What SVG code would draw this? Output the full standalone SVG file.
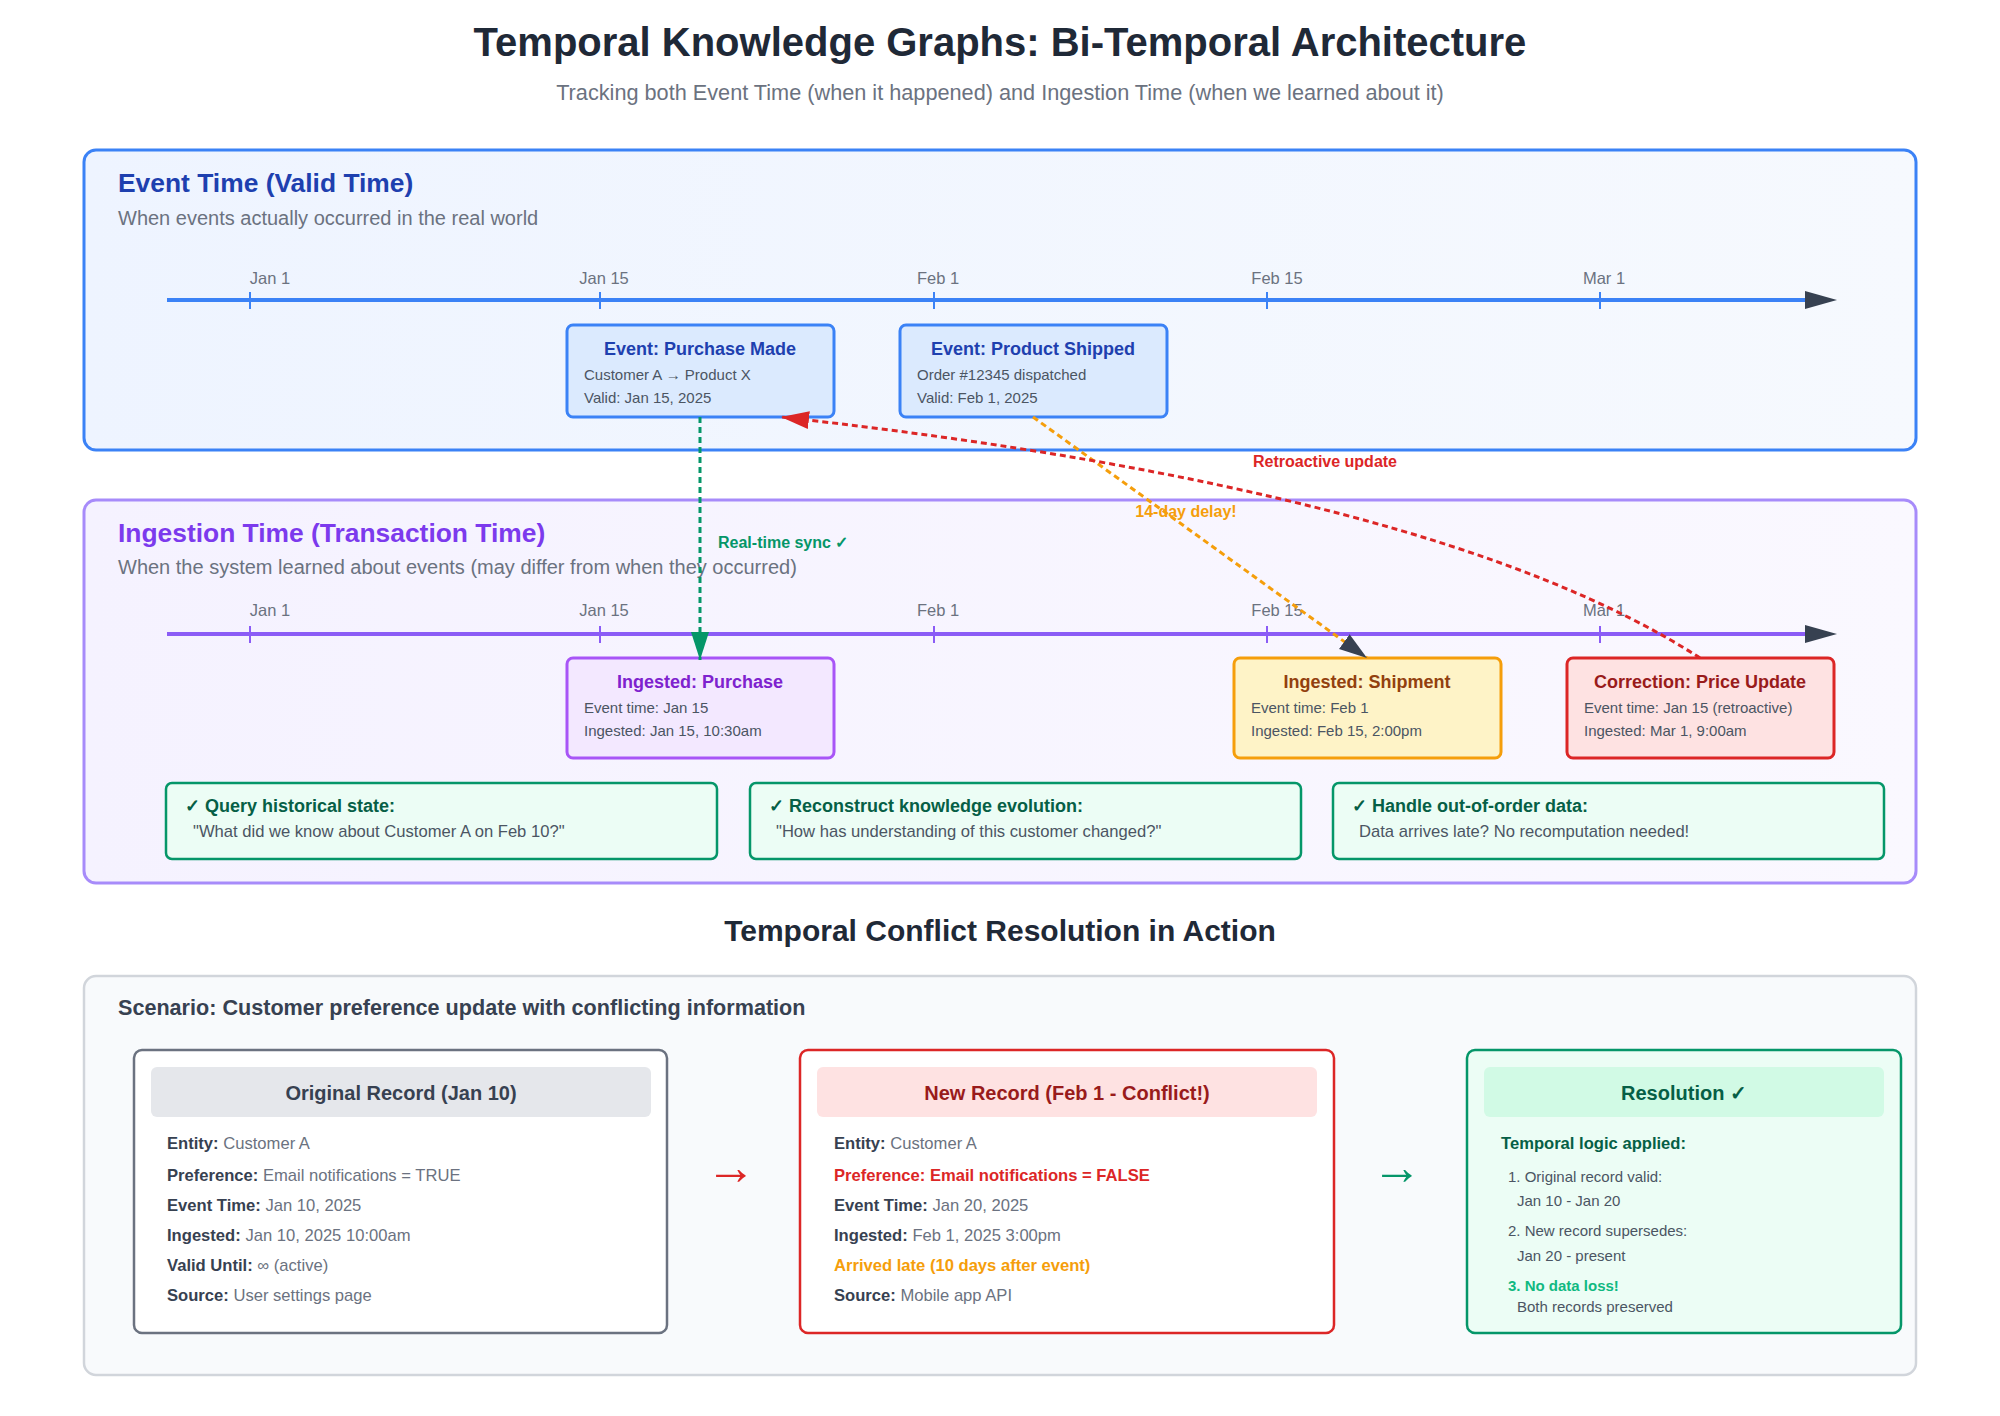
<svg xmlns="http://www.w3.org/2000/svg" width="2000" height="1416" viewBox="0 0 2000 1416">
<defs>
<linearGradient id="gBlue" x1="0" y1="0" x2="1" y2="0"><stop offset="0" stop-color="#eef4ff"/><stop offset="1" stop-color="#f6f9fe"/></linearGradient>
<linearGradient id="gPurple" x1="0" y1="0" x2="1" y2="0"><stop offset="0" stop-color="#f5f2ff"/><stop offset="1" stop-color="#faf8ff"/></linearGradient>
<marker id="axisArrow" markerUnits="userSpaceOnUse" markerWidth="34" markerHeight="22" refX="0" refY="11" orient="auto"><path d="M0,2 L32,11 L0,20 z" fill="#374151"/></marker>
<marker id="arrGreen" markerUnits="userSpaceOnUse" markerWidth="30" markerHeight="22" refX="28" refY="11" orient="auto"><path d="M0,2 L28,11 L0,20 z" fill="#059669"/></marker>
<marker id="arrDark" markerUnits="userSpaceOnUse" markerWidth="30" markerHeight="22" refX="28" refY="11" orient="auto"><path d="M0,2 L28,11 L0,20 z" fill="#374151"/></marker>
<marker id="arrRed" markerUnits="userSpaceOnUse" markerWidth="30" markerHeight="22" refX="28" refY="11" orient="auto"><path d="M0,2 L28,11 L0,20 z" fill="#dc2626"/></marker>
</defs>
<style>
text{font-family:"Liberation Sans",Arial,sans-serif}
.title{font-size:40px;font-weight:bold;fill:#1f2937}
.sub{font-size:21.7px;fill:#6b7280}
.ptitle{font-size:26.4px;font-weight:bold}
.psub{font-size:20px;fill:#6b7280}
.tick{font-size:16.5px;fill:#6b7280;text-anchor:middle}
.btitle{font-size:18px;font-weight:bold;text-anchor:middle}
.bline{font-size:15px;fill:#4b5563}
.gtitle{font-size:18px;font-weight:bold;fill:#065f46}
.gline{font-size:16.6px;fill:#4b5563}
.clabel{font-size:16px;font-weight:bold}
.h2{font-size:30px;font-weight:bold;fill:#1f2937;text-anchor:middle}
.scen{font-size:21.6px;font-weight:bold;fill:#374151}
.rhead{font-size:20px;font-weight:bold;text-anchor:middle}
.rline{font-size:16.6px;fill:#6b7280}
.rline tspan.k{font-weight:bold;fill:#374151}
.sline{font-size:15px;fill:#4b5563}
.axisB{stroke:#3b82f6;stroke-width:4}
.axisP{stroke:#8b5cf6;stroke-width:4}
.conn{fill:none;stroke-width:3;stroke-dasharray:6,4}
.arrowch{font-size:50px;text-anchor:middle}
</style>
<rect width="2000" height="1416" fill="#ffffff"/>
<text class="title" x="1000" y="56" text-anchor="middle">Temporal Knowledge Graphs: Bi-Temporal Architecture</text>
<text class="sub" x="1000" y="100" text-anchor="middle">Tracking both Event Time (when it happened) and Ingestion Time (when we learned about it)</text>

<g id="event-panel">
<rect x="84" y="150" width="1832" height="300" rx="12" fill="url(#gBlue)" stroke="#3b82f6" stroke-width="3"/>
<text class="ptitle" x="118" y="192" fill="#1e40af">Event Time (Valid Time)</text>
<text class="psub" x="118" y="225">When events actually occurred in the real world</text>
<line class="axisB" x1="167" y1="300" x2="1805" y2="300" marker-end="url(#axisArrow)"/>
<g stroke="#3b82f6" stroke-width="2"><line x1="250" y1="292" x2="250" y2="309"/><line x1="600" y1="292" x2="600" y2="309"/><line x1="934" y1="292" x2="934" y2="309"/><line x1="1267" y1="292" x2="1267" y2="309"/><line x1="1600" y1="292" x2="1600" y2="309"/></g>
<text class="tick" x="270" y="284">Jan 1</text><text class="tick" x="604" y="284">Jan 15</text><text class="tick" x="938" y="284">Feb 1</text><text class="tick" x="1277" y="284">Feb 15</text><text class="tick" x="1604" y="284">Mar 1</text>
</g>
<g id="event-purchase">
<rect x="567" y="325" width="267" height="92" rx="6" fill="#dbeafe" stroke="#3b82f6" stroke-width="3"/>
<text class="btitle" x="700" y="355" fill="#1e40af">Event: Purchase Made</text>
<text class="bline" x="584" y="380">Customer A → Product X</text>
<text class="bline" x="584" y="403">Valid: Jan 15, 2025</text>
</g>
<g id="event-shipped">
<rect x="900" y="325" width="267" height="92" rx="6" fill="#dbeafe" stroke="#3b82f6" stroke-width="3"/>
<text class="btitle" x="1033" y="355" fill="#1e40af">Event: Product Shipped</text>
<text class="bline" x="917" y="380">Order #12345 dispatched</text>
<text class="bline" x="917" y="403">Valid: Feb 1, 2025</text>
</g>

<g id="ingestion-panel">
<rect x="84" y="500" width="1832" height="383" rx="12" fill="url(#gPurple)" stroke="#a78bfa" stroke-width="3"/>
<text class="ptitle" x="118" y="542" fill="#7c3aed">Ingestion Time (Transaction Time)</text>
<text class="psub" x="118" y="574">When the system learned about events (may differ from when they occurred)</text>
<line class="axisP" x1="167" y1="634" x2="1805" y2="634" marker-end="url(#axisArrow)"/>
<g stroke="#8b5cf6" stroke-width="2"><line x1="250" y1="626" x2="250" y2="643"/><line x1="600" y1="626" x2="600" y2="643"/><line x1="934" y1="626" x2="934" y2="643"/><line x1="1267" y1="626" x2="1267" y2="643"/><line x1="1600" y1="626" x2="1600" y2="643"/></g>
<text class="tick" x="270" y="616">Jan 1</text><text class="tick" x="604" y="616">Jan 15</text><text class="tick" x="938" y="616">Feb 1</text><text class="tick" x="1277" y="616">Feb 15</text><text class="tick" x="1604" y="616">Mar 1</text>
</g>
<g id="ingested-purchase">
<rect x="567" y="658" width="267" height="100" rx="6" fill="#f3e8ff" stroke="#a855f7" stroke-width="3"/>
<text class="btitle" x="700" y="688" fill="#7e22ce">Ingested: Purchase</text>
<text class="bline" x="584" y="713">Event time: Jan 15</text>
<text class="bline" x="584" y="736">Ingested: Jan 15, 10:30am</text>
</g>
<g id="ingested-shipment">
<rect x="1234" y="658" width="267" height="100" rx="6" fill="#fef3c7" stroke="#f59e0b" stroke-width="3"/>
<text class="btitle" x="1367" y="688" fill="#92400e">Ingested: Shipment</text>
<text class="bline" x="1251" y="713">Event time: Feb 1</text>
<text class="bline" x="1251" y="736">Ingested: Feb 15, 2:00pm</text>
</g>
<g id="correction">
<rect x="1567" y="658" width="267" height="100" rx="6" fill="#fee2e2" stroke="#dc2626" stroke-width="3"/>
<text class="btitle" x="1700" y="688" fill="#991b1b">Correction: Price Update</text>
<text class="bline" x="1584" y="713">Event time: Jan 15 (retroactive)</text>
<text class="bline" x="1584" y="736">Ingested: Mar 1, 9:00am</text>
</g>
<g id="benefit-query">
<rect x="166" y="783" width="551" height="76" rx="6" fill="#ecfdf5" stroke="#059669" stroke-width="2.5"/>
<text class="gtitle" x="185" y="812">✓ Query historical state:</text>
<text class="gline" x="193" y="837">"What did we know about Customer A on Feb 10?"</text>
</g>
<g id="benefit-evolution">
<rect x="750" y="783" width="551" height="76" rx="6" fill="#ecfdf5" stroke="#059669" stroke-width="2.5"/>
<text class="gtitle" x="769" y="812">✓ Reconstruct knowledge evolution:</text>
<text class="gline" x="776" y="837">"How has understanding of this customer changed?"</text>
</g>
<g id="benefit-ooo">
<rect x="1333" y="783" width="551" height="76" rx="6" fill="#ecfdf5" stroke="#059669" stroke-width="2.5"/>
<text class="gtitle" x="1352" y="812">✓ Handle out-of-order data:</text>
<text class="gline" x="1359" y="837">Data arrives late? No recomputation needed!</text>
</g>

<g id="connectors">
<line class="conn" x1="700" y1="417" x2="700" y2="660" stroke="#059669" marker-end="url(#arrGreen)"/>
<text class="clabel" x="718" y="548" fill="#059669">Real-time sync ✓</text>
<line class="conn" x1="1033" y1="417" x2="1367" y2="658" stroke="#f59e0b" marker-end="url(#arrDark)"/>
<text class="clabel" x="1186" y="517" fill="#f59e0b" text-anchor="middle">14-day delay!</text>
<path class="conn" d="M1700,658 Q1440,490 781,417" stroke="#dc2626" marker-end="url(#arrRed)"/>
<text class="clabel" x="1325" y="467" fill="#dc2626" text-anchor="middle">Retroactive update</text>
</g>

<text class="h2" x="1000" y="941">Temporal Conflict Resolution in Action</text>
<g id="scenario-panel">
<rect x="84" y="976" width="1832" height="399" rx="12" fill="#f8fafc" stroke="#d1d5db" stroke-width="2.5"/>
<text class="scen" x="118" y="1015">Scenario: Customer preference update with conflicting information</text>
</g>
<g id="original-record">
<rect x="134" y="1050" width="533" height="283" rx="8" fill="#ffffff" stroke="#6b7280" stroke-width="2.5"/>
<rect x="151" y="1067" width="500" height="50" rx="6" fill="#e5e7eb"/>
<text class="rhead" x="401" y="1100" fill="#374151">Original Record (Jan 10)</text>
<text class="rline" x="167" y="1149"><tspan class="k">Entity:</tspan> Customer A</text>
<text class="rline" x="167" y="1181"><tspan class="k">Preference:</tspan> Email notifications = TRUE</text>
<text class="rline" x="167" y="1211"><tspan class="k">Event Time:</tspan> Jan 10, 2025</text>
<text class="rline" x="167" y="1241"><tspan class="k">Ingested:</tspan> Jan 10, 2025 10:00am</text>
<text class="rline" x="167" y="1271"><tspan class="k">Valid Until:</tspan> ∞ (active)</text>
<text class="rline" x="167" y="1301"><tspan class="k">Source:</tspan> User settings page</text>
</g>
<text class="arrowch" x="731" y="1184" style="fill:#dc2626">→</text>
<g id="new-record">
<rect x="800" y="1050" width="534" height="283" rx="8" fill="#ffffff" stroke="#dc2626" stroke-width="2.5"/>
<rect x="817" y="1067" width="500" height="50" rx="6" fill="#fee2e2"/>
<text class="rhead" x="1067" y="1100" fill="#991b1b">New Record (Feb 1 - Conflict!)</text>
<text class="rline" x="834" y="1149"><tspan class="k">Entity:</tspan> Customer A</text>
<text class="rline" x="834" y="1181" style="font-weight:bold;fill:#dc2626">Preference: Email notifications = FALSE</text>
<text class="rline" x="834" y="1211"><tspan class="k">Event Time:</tspan> Jan 20, 2025</text>
<text class="rline" x="834" y="1241"><tspan class="k">Ingested:</tspan> Feb 1, 2025 3:00pm</text>
<text class="rline" x="834" y="1271" style="font-weight:bold;fill:#f59e0b">Arrived late (10 days after event)</text>
<text class="rline" x="834" y="1301"><tspan class="k">Source:</tspan> Mobile app API</text>
</g>
<text class="arrowch" x="1397" y="1184" style="fill:#059669">→</text>
<g id="resolution">
<rect x="1467" y="1050" width="434" height="283" rx="8" fill="#ecfdf5" stroke="#059669" stroke-width="2.5"/>
<rect x="1484" y="1067" width="400" height="50" rx="6" fill="#d1fae5"/>
<text class="rhead" x="1684" y="1100" fill="#065f46">Resolution ✓</text>
<text x="1501" y="1149" style="font-size:16.6px;font-weight:bold;fill:#065f46">Temporal logic applied:</text>
<text class="sline" x="1508" y="1182">1. Original record valid:</text>
<text class="sline" x="1517" y="1206">Jan 10 - Jan 20</text>
<text class="sline" x="1508" y="1236">2. New record supersedes:</text>
<text class="sline" x="1517" y="1261">Jan 20 - present</text>
<text class="sline" x="1508" y="1291" style="font-weight:bold;fill:#10b981">3. No data loss!</text>
<text class="sline" x="1517" y="1312">Both records preserved</text>
</g>
</svg>
